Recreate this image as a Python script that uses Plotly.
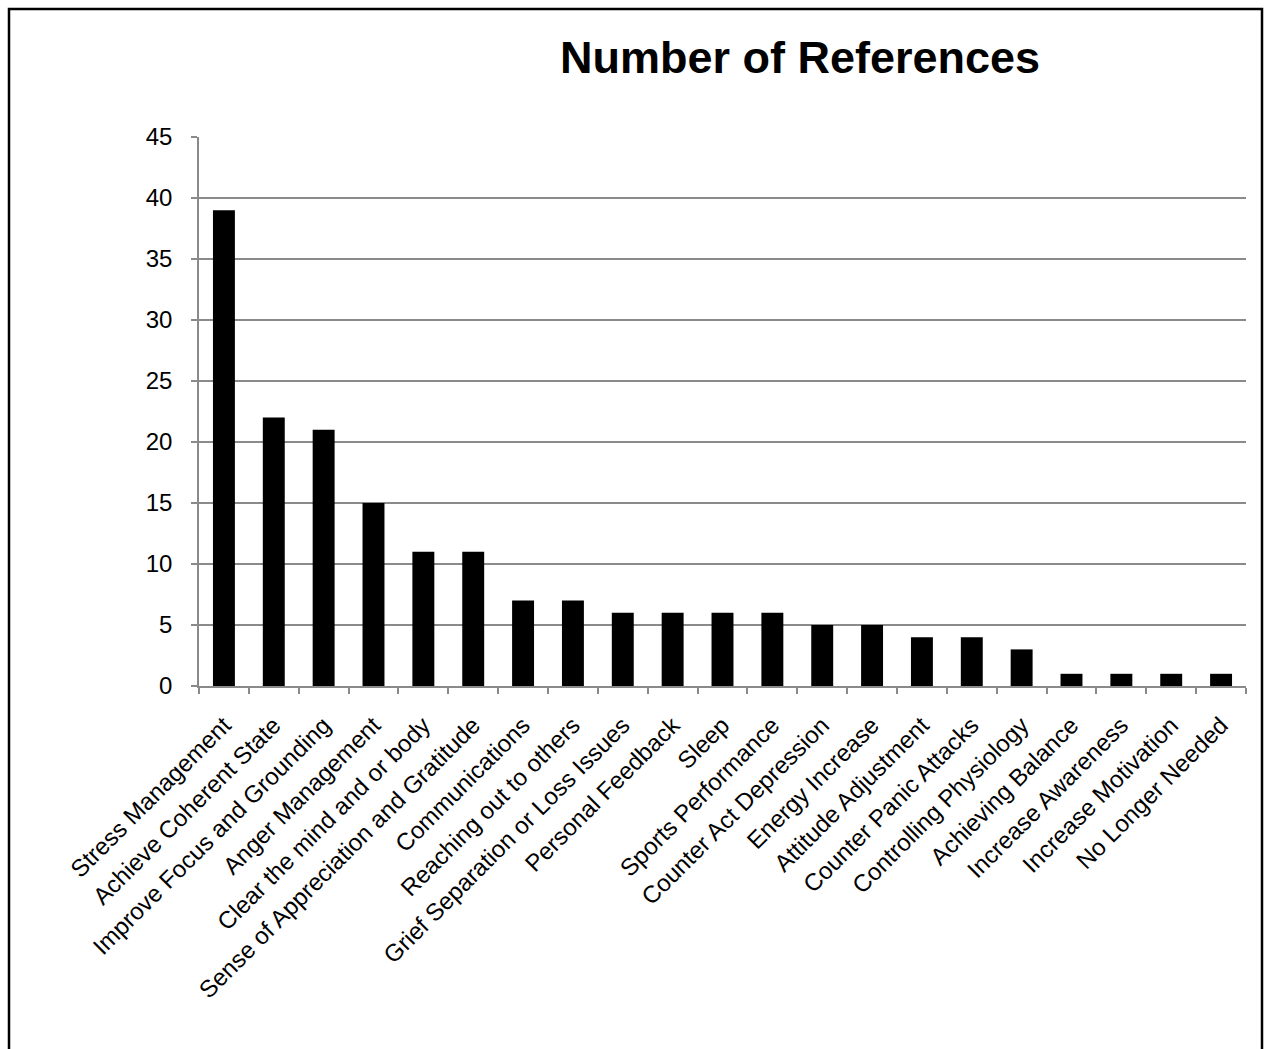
import plotly.graph_objects as go

# Purposes and how often each was referenced
categories = [
    "Stress Management", "Achieve Coherent State", "Improve Focus and Grounding",
    "Anger Management", "Clear the mind and or body", "Sense of Appreciation and Gratitude",
    "Communications", "Reaching out to others", "Grief Separation or Loss Issues",
    "Personal Feedback", "Sleep", "Sports Performance", "Counter Act Depression",
    "Energy Increase", "Attitude Adjustment", "Counter Panic Attacks",
    "Controlling Physiology", "Achieving Balance", "Increase Awareness",
    "Increase Motivation", "No Longer Needed",
]
references = [39, 22, 21, 15, 11, 11, 7, 7, 6, 6, 6, 6, 5, 5, 4, 4, 3, 1, 1, 1, 1]
y_ticks = [0, 5, 10, 15, 20, 25, 30, 35, 40, 45]

W, H = 1269, 1049
L, R, T, B = 199, 23, 137, 363
pw, ph = W - L - R, H - T - B

def px_x(x):
    return (x - L) / pw

def px_y(y):
    return (H - B - y) / ph

font_family = "Liberation Sans, Arial, sans-serif"
grey = "#8a8a8a"

fig = go.Figure(
    go.Bar(
        x=categories,
        y=references,
        marker=dict(color="black", line=dict(color="black", width=0)),
    )
)

fig.update_layout(
    width=W,
    height=H,
    margin=dict(l=L, r=R, t=T, b=B, autoexpand=False),
    paper_bgcolor="white",
    plot_bgcolor="white",
    bargap=0.56,
    showlegend=False,
    title=dict(
        text="<b>Number of References</b>",
        x=px_x(800), xref="paper", xanchor="center",
        y=1 - 57 / H, yref="container", yanchor="middle",
        font=dict(family=font_family, size=45, color="black"),
    ),
    font=dict(family=font_family, color="black"),
)

fig.update_xaxes(
    type="category",
    tickangle=-45,
    tickfont=dict(size=24, color="black"),
    ticks="outside",
    tickson="boundaries",
    ticklen=6,
    tickcolor=grey,
    tickwidth=1.5,
    showline=True,
    linecolor=grey,
    linewidth=1.5,
    showgrid=False,
    ticklabelstandoff=14,
)

fig.update_yaxes(
    range=[0, 45],
    tickvals=y_ticks,
    tickfont=dict(size=24, color="black"),
    ticks="outside",
    ticklen=6,
    tickcolor=grey,
    tickwidth=1.5,
    showline=True,
    linecolor=grey,
    linewidth=1.5,
    showgrid=True,
    gridcolor=grey,
    gridwidth=1.5,
    zeroline=False,
    ticklabelstandoff=14,
)

# Outer frame around the chart
fig.add_shape(
    type="rect", xref="paper", yref="paper",
    x0=px_x(9), x1=px_x(1262), y0=px_y(1060), y1=px_y(9),
    line=dict(color="black", width=2.5), fillcolor="rgba(0,0,0,0)",
    layer="below",
)

fig.write_html("out.html")
